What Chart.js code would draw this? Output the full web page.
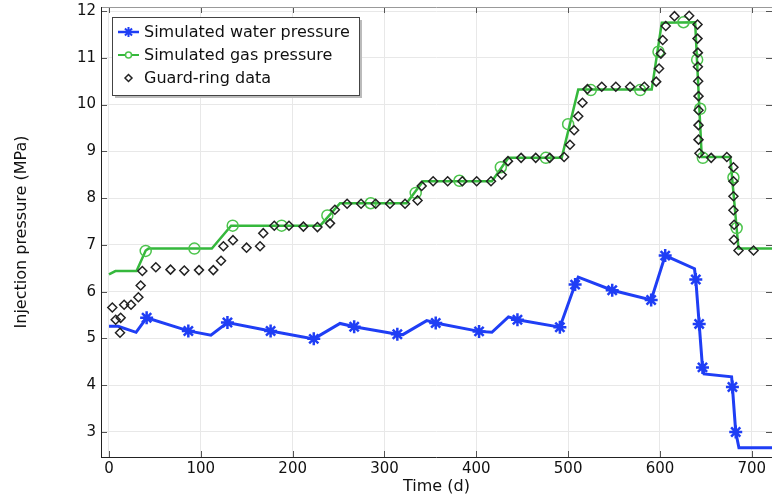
<!DOCTYPE html>
<html>
<head>
<meta charset="utf-8">
<script src="https://cdn.jsdelivr.net/npm/chart.js@4"></script>
<style>
  html, body { margin: 0; padding: 0; background: #fff; }
  canvas { display: block; }
</style>
</head>
<body>
<canvas id="chart" width="773" height="498"></canvas>
<script>
// ── Dados ───────────────────────────────────────────────────

const xTicks = [0, 100, 200, 300, 400, 500, 600, 700];
const yTicks = [3, 4, 5, 6, 7, 8, 9, 10, 11, 12];

// Simulated water pressure (linha)
const waterT = [0, 10, 29.5, 41, 86.4, 111, 129, 176, 223, 251.6, 267, 314, 320, 346, 355.8, 403, 417, 435, 444.8, 491, 507.6, 511, 548, 590.4, 605.7, 637.6, 639, 642.7, 646.3, 648, 678, 678.9, 682.5, 686, 722];
const waterP = [5.26, 5.26, 5.13, 5.44, 5.16, 5.07, 5.34, 5.16, 4.99, 5.32, 5.25, 5.09, 5.08, 5.38, 5.33, 5.15, 5.13, 5.46, 5.40, 5.24, 6.15, 6.31, 6.03, 5.82, 6.77, 6.49, 6.26, 5.31, 4.38, 4.24, 4.18, 3.96, 3.0, 2.66, 2.66];
// marcadores (estrelas)
const waterMarkT = [41, 86.4, 129, 176, 223, 267, 314, 355.8, 403, 444.8, 491, 507.6, 548, 590.4, 605.7, 639, 642.7, 646.3, 678.9, 682.5];
const waterMarkP = [5.44, 5.16, 5.34, 5.16, 4.99, 5.25, 5.09, 5.33, 5.15, 5.40, 5.24, 6.15, 6.03, 5.82, 6.77, 6.26, 5.31, 4.38, 3.96, 3.0];

// Simulated gas pressure (linha)
const gasT = [0, 7, 30, 40, 43, 112, 133, 230, 251.6, 324, 342, 417, 435, 493, 511, 591, 602, 638.3, 645.5, 676.5, 685.5, 722];
const gasP = [6.37, 6.44, 6.44, 6.88, 6.92, 6.92, 7.41, 7.41, 7.89, 7.89, 8.36, 8.36, 8.86, 8.86, 10.32, 10.32, 11.75, 11.76, 8.88, 8.88, 6.92, 6.92];
// marcadores (círculos)
const gasMarkT = [40, 93, 134.7, 188, 237.8, 285, 334, 381.6, 426.7, 475.7, 500, 524.7, 578.5, 598.4, 625.6, 640.5, 643.8, 646.7, 680, 683.5];
const gasMarkP = [6.87, 6.92, 7.41, 7.41, 7.63, 7.89, 8.11, 8.37, 8.66, 8.86, 9.58, 10.31, 10.31, 11.13, 11.76, 10.96, 9.91, 8.86, 8.44, 7.36];

// Guard-ring data (losangos)
const ringT = [3.6, 7.3, 12, 12.7, 16.5, 24, 32, 34.5, 36.3, 51, 67, 82, 98, 113.6, 122, 124.6, 135, 149.8, 164.5, 168, 180, 196, 211.7, 227, 240.7, 246, 259.3, 274.5, 290.4, 306, 322.4, 336, 340.5, 353, 368.8, 384.8, 400.4, 416, 427.7, 434.5, 448.8, 464.7, 480, 495.6, 502, 506.5, 511, 515.6, 521, 536.6, 551.9, 567.5, 583, 595.9, 599, 601, 603, 606.3, 615.8, 631.8, 640.9, 640.9, 641.3, 641.3, 641.6, 642, 642, 642, 642, 643, 655.8, 672.8, 680, 680, 680, 680, 680.8, 680.5, 685.5, 701.9];
const ringP = [5.66, 5.40, 5.12, 5.44, 5.72, 5.72, 5.88, 6.13, 6.44, 6.52, 6.47, 6.45, 6.46, 6.46, 6.66, 6.97, 7.10, 6.94, 6.97, 7.25, 7.41, 7.41, 7.39, 7.38, 7.46, 7.75, 7.88, 7.88, 7.88, 7.88, 7.88, 7.95, 8.26, 8.36, 8.36, 8.36, 8.36, 8.36, 8.50, 8.79, 8.86, 8.86, 8.86, 8.88, 9.14, 9.45, 9.75, 10.04, 10.33, 10.38, 10.38, 10.38, 10.38, 10.49, 10.77, 11.09, 11.38, 11.68, 11.89, 11.90, 11.71, 11.41, 11.11, 10.81, 10.50, 10.18, 9.88, 9.56, 9.25, 8.96, 8.86, 8.88, 8.66, 8.36, 8.04, 7.74, 7.43, 7.11, 6.88, 6.88];

const legendLabels = ['Simulated water pressure', 'Simulated gas pressure', 'Guard-ring data'];

// ── Estilos ─────────────────────────────────────────────────

const BLUE  = '#1f3ef5';
const GREEN = '#35b83c';
const GREEN_MK = '#4cc44c';
const FONT = 'DejaVu Sans';

const pts = (xs, ys) => xs.map((x, i) => ({ x, y: ys[i] }));

// ticks para dentro + moldura
const framePlugin = {
    id: 'frame',
    afterDatasetsDraw(chart) {
        const { ctx, chartArea: a, scales: { x, y } } = chart;
        ctx.save();
        ctx.lineWidth = 1;
        ctx.strokeStyle = '#555';
        ctx.beginPath();
        xTicks.forEach(v => {
            const px = Math.round(x.getPixelForValue(v)) + 0.5;
            ctx.moveTo(px, a.bottom); ctx.lineTo(px, a.bottom - 6);
            ctx.moveTo(px, a.top);    ctx.lineTo(px, a.top + 6);
        });
        yTicks.forEach(v => {
            const py = Math.round(y.getPixelForValue(v)) + 0.5;
            ctx.moveTo(a.left, py);  ctx.lineTo(a.left + 6, py);
            ctx.moveTo(a.right, py); ctx.lineTo(a.right - 6, py);
        });
        ctx.stroke();
        // moldura
        ctx.strokeStyle = '#999';
        ctx.beginPath();
        ctx.moveTo(a.left, a.top + 0.5); ctx.lineTo(a.right, a.top + 0.5);
        ctx.stroke();
        ctx.strokeStyle = '#222';
        ctx.beginPath();
        ctx.moveTo(a.left + 0.5, a.top); ctx.lineTo(a.left + 0.5, a.bottom);
        ctx.moveTo(a.left, a.bottom + 0.5); ctx.lineTo(a.right, a.bottom + 0.5);
        ctx.stroke();
        ctx.restore();
    }
};

// legenda desenhada à mão (linha + marcador)
const legendPlugin = {
    id: 'boxLegend',
    afterDraw(chart) {
        const ctx = chart.ctx;
        const bx = 112, by = 17, bw = 247, bh = 78;
        ctx.save();
        ctx.fillStyle = '#bbb';
        ctx.fillRect(bx + 3, by + 3, bw, bh);
        ctx.fillStyle = '#fff';
        ctx.fillRect(bx, by, bw, bh);
        ctx.strokeStyle = '#444';
        ctx.lineWidth = 1;
        ctx.strokeRect(bx + 0.5, by + 0.5, bw, bh);

        const rows = [
            { color: BLUE, line: true, lw: 2.5, style: 'star', r: 5, mw: 2 },
            { color: GREEN, mcolor: GREEN_MK, line: true, lw: 2, style: 'circle', r: 3, mw: 1.5 },
            { color: '#222', line: false, style: 'rectRot', r: 3.5, mw: 1.5 },
        ];
        const ys = [32, 55, 78];
        rows.forEach((r, i) => {
            const cy = ys[i];
            if (r.line) {
                ctx.strokeStyle = r.color;
                ctx.lineWidth = r.lw;
                ctx.beginPath();
                ctx.moveTo(118, cy); ctx.lineTo(139, cy);
                ctx.stroke();
            }
            ctx.strokeStyle = r.mcolor || r.color;
            ctx.fillStyle = '#fff';
            ctx.lineWidth = r.mw;
            Chart.helpers.drawPoint(ctx, { pointStyle: r.style, radius: r.r, rotation: 0, borderWidth: r.mw }, 128.5, cy);
            ctx.fillStyle = '#111';
            ctx.font = `16px "${FONT}"`;
            ctx.textBaseline = 'middle';
            ctx.fillText(legendLabels[i], 144, cy + 1);
        });
        ctx.restore();
    }
};

// sem folga extra dos rótulos nas bordas
const noEdgePad = s => { s.paddingLeft = 0; s.paddingRight = 0; s.paddingTop = 0; s.paddingBottom = 0; };

new Chart(document.getElementById('chart'), {
    type: 'scatter',
    data: {
        datasets: [
            {
                label: 'Guard-ring data',
                data: pts(ringT, ringP),
                showLine: false,
                pointStyle: 'rectRot',
                pointRadius: 4.5,
                pointBorderWidth: 1.5,
                borderColor: '#222',
                backgroundColor: 'rgba(255,255,255,0)',
                order: 0,
            },
            {
                label: 'Simulated water pressure',
                data: pts(waterT, waterP),
                showLine: true,
                borderColor: BLUE,
                borderWidth: 3,
                pointRadius: 0,
                order: 2,
            },
            {
                label: 'water markers',
                data: pts(waterMarkT, waterMarkP),
                showLine: false,
                pointStyle: 'star',
                pointRadius: 6.5,
                pointBorderWidth: 2.5,
                borderColor: BLUE,
                backgroundColor: BLUE,
                order: 1,
            },
            {
                label: 'Simulated gas pressure',
                data: pts(gasT, gasP),
                showLine: true,
                borderColor: GREEN,
                borderWidth: 2.5,
                pointRadius: 0,
                order: 4,
            },
            {
                label: 'gas markers',
                data: pts(gasMarkT, gasMarkP),
                showLine: false,
                pointStyle: 'circle',
                pointRadius: 5.5,
                pointBorderWidth: 1.5,
                borderColor: GREEN_MK,
                backgroundColor: 'rgba(255,255,255,0)',
                order: 3,
            },
        ]
    },
    options: {
        responsive: false,
        devicePixelRatio: 1,
        animation: false,
        layout: { autoPadding: false, padding: { left: 0, right: 1, top: 7, bottom: 0 } },
        plugins: { legend: { display: false }, tooltip: { enabled: false } },
        scales: {
            x: {
                type: 'linear',
                min: -8.7, max: 722,
                afterBuildTicks: s => { s.ticks = xTicks.map(v => ({ value: v })); },
                afterFit: s => { s.height = 41; noEdgePad(s); },
                grid: { color: '#e8e8e8', drawTicks: false },
                border: { display: false },
                ticks: { font: { family: FONT, size: 15 }, color: '#111', padding: 3, maxRotation: 0 },
                title: { display: true, text: 'Time (d)', font: { family: FONT, size: 16 }, color: '#111', padding: { top: 0, bottom: 2 } },
            },
            y: {
                type: 'linear',
                min: 2.464, max: 12.086,
                afterBuildTicks: s => { s.ticks = yTicks.map(v => ({ value: v })); },
                afterFit: s => { s.width = 101; noEdgePad(s); },
                grid: { color: '#e8e8e8', drawTicks: false },
                border: { display: false },
                ticks: { font: { family: FONT, size: 15 }, color: '#111', padding: 5 },
                title: { display: true, text: 'Injection pressure (MPa)', font: { family: FONT, size: 16 }, color: '#111', padding: { top: 12, bottom: 0 } },
            },
        },
    },
    plugins: [framePlugin, legendPlugin],
});
</script>
</body>
</html>
